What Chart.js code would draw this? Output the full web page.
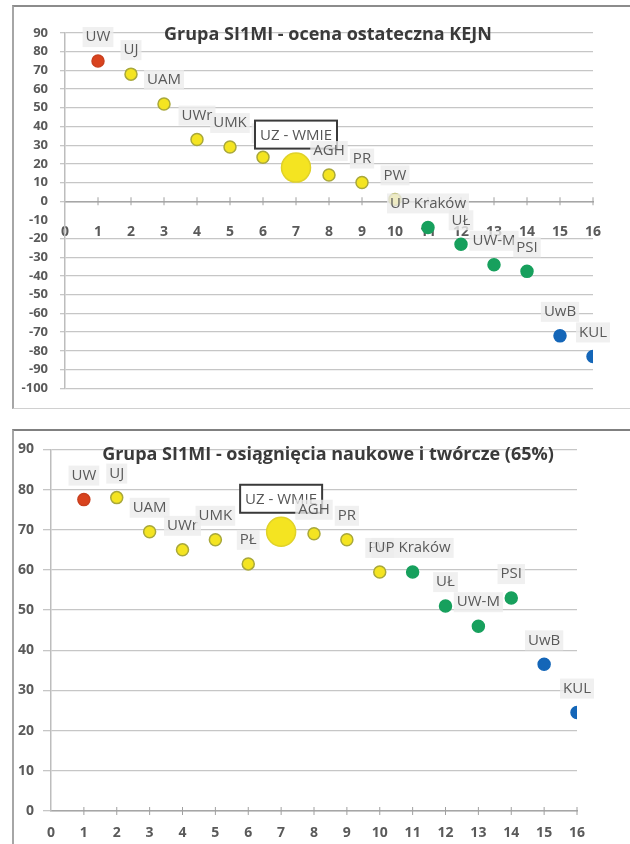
<!DOCTYPE html>
<html>
<head>
<meta charset="utf-8">
<script src="https://cdn.jsdelivr.net/npm/chart.js@4.4.1/dist/chart.umd.min.js"></script>
<style>
body { margin: 0; background: #fff; width: 630px; height: 844px; overflow: hidden; position: relative; }
.frame { position: absolute; box-sizing: border-box; }
#f1 { left: 12px; top: 5px; width: 618px; height: 404px; border-left: 2px solid #a6a6a6; border-top: 2px solid #8c8c8c; border-bottom: 1px solid #d0d0d0; }
#f2 { left: 12px; top: 429px; width: 618px; height: 415px; border-left: 2px solid #a6a6a6; border-top: 2px solid #808080; }
canvas { position: absolute; }
#c1 { left: 15px; top: 8px; }
#c2 { left: 15px; top: 432px; }
</style>
</head>
<body>
<div class="frame" id="f1"></div>
<div class="frame" id="f2"></div>
<canvas id="c1" width="615" height="400"></canvas>
<canvas id="c2" width="615" height="412"></canvas>
<script>
//-------------------
// DATA
//-------------------
var unitNames = ["UW", "UJ", "UAM", "UWr", "UMK", "PŁ", "UZ - WMIE", "AGH", "PR", "PW",
                 "UP Kraków", "UŁ", "UW-M", "PSI", "UwB", "KUL"];
var unitRank = [1, 2, 3, 4, 5, 6, 7, 8, 9, 10, 11, 12, 13, 14, 15, 16];
var unitGroup = ["A", "B", "B", "B", "B", "B", "B", "B", "B", "B", "C", "C", "C", "C", "D", "D"];
var kejnScore = [75, 68, 52, 33, 29, 23.5, 18, 14, 10, 1, -14, -23, -34, -37.5, -72, -83];
var achievementScore = [77.5, 78, 69.5, 65, 67.5, 61.5, 69.5, 69, 67.5, 59.5, 59.5, 51, 46, 53, 36.5, 24.5];
var highlighted = "UZ - WMIE";
var title1 = "Grupa SI1MI - ocena ostateczna KEJN";
var title2 = "Grupa SI1MI - osiągnięcia naukowe i twórcze (65%)";

var groupFill = { A: "#d9431e", B: "#f4e421", C: "#17a05d", D: "#1466b8" };
var groupBorder = { A: "#c9401f", B: "#a9a83a", C: "#17a05d", D: "#1466b8" };

Chart.defaults.font.family = '"Open Sans", sans-serif';
var tickColor = "#5a5a5a";
var gridColor = "#c6c6c6";

// point labels with light boxes, highlighted one in a framed box
var pointLabels = {
    id: "pointLabels",
    afterDatasetsDraw: function (chart) {
        var ctx = chart.ctx;
        var meta = chart.getDatasetMeta(0);
        ctx.save();
        ctx.font = '15px "Open Sans"';
        ctx.textAlign = "center";
        ctx.textBaseline = "middle";
        for (var i = 0; i < meta.data.length; i++) {
            var pt = meta.data[i];
            if (unitNames[i] === highlighted) {
                var bw = ctx.measureText(unitNames[i]).width + 10;
                var by = pt.y - 33;
                ctx.fillStyle = "#fff";
                ctx.fillRect(pt.x - bw / 2, by - 14, bw, 28);
                ctx.strokeStyle = "#3a3a3a";
                ctx.lineWidth = 2;
                ctx.strokeRect(pt.x - bw / 2, by - 14, bw, 28);
                ctx.fillStyle = "#555";
                ctx.fillText(unitNames[i], pt.x, by + 1);
                continue;
            }
            var w = ctx.measureText(unitNames[i]).width + 6;
            var y = pt.y - 24;
            ctx.fillStyle = "rgba(236,236,236,0.8)";
            ctx.fillRect(pt.x - w / 2, y - 10, w, 20);
            ctx.fillStyle = "#5a5a5a";
            ctx.fillText(unitNames[i], pt.x, y);
        }
        ctx.restore();
    }
};

// small cross ticks on the horizontal axis
var axisTicks = {
    id: "axisTicks",
    beforeDatasetsDraw: function (chart) {
        var ctx = chart.ctx;
        var xs = chart.scales.x;
        var y0 = chart.scales.y.getPixelForValue(0);
        ctx.save();
        ctx.strokeStyle = "#a0a0a0";
        ctx.lineWidth = 1;
        ctx.beginPath();
        xs.ticks.forEach(function (t) {
            if (t.value === 0) return;
            var px = xs.getPixelForValue(t.value);
            ctx.moveTo(px, y0 - 4);
            ctx.lineTo(px, y0 + 4);
        });
        ctx.stroke();
        ctx.restore();
    }
};

// title drawn inside the plot
var innerTitle = {
    id: "innerTitle",
    afterDraw: function (chart, args, opts) {
        var ctx = chart.ctx;
        ctx.save();
        ctx.font = 'bold 18px "Open Sans"';
        ctx.fillStyle = "#3a3a3a";
        ctx.textAlign = "center";
        ctx.textBaseline = "middle";
        ctx.fillText(opts.text, opts.x, opts.y);
        ctx.restore();
    }
};

function makeData(values) {
    return {
        datasets: [{
            data: unitRank.map(function (r, i) { return { x: r, y: values[i] }; }),
            backgroundColor: unitGroup.map(function (g) { return groupFill[g]; }),
            borderColor: unitNames.map(function (n, i) { return n === highlighted ? "#e0d22a" : groupBorder[unitGroup[i]]; }),
            borderWidth: 1.5,
            pointRadius: unitNames.map(function (n) { return n === highlighted ? 14.5 : 6; })
        }]
    };
}

var tickFont = { size: 14, weight: "bold" };

var chart1 = new Chart(document.getElementById("c1"), {
    type: "scatter",
    data: makeData(kejnScore),
    plugins: [axisTicks, pointLabels, innerTitle],
    options: {
        responsive: false,
        animation: false,
        layout: { padding: { left: 0, right: 37, top: 25, bottom: 10 } },
        plugins: {
            legend: { display: false },
            tooltip: { enabled: false },
            innerTitle: { text: title1, x: 313, y: 27 }
        },
        scales: {
            x: {
                type: "linear", min: 0, max: 16, position: { y: 0 },
                ticks: { stepSize: 1, padding: 22, color: tickColor, font: tickFont },
                grid: { drawOnChartArea: false, drawTicks: false },
                border: { color: "#a6a6a6", width: 1.5 }
            },
            y: {
                min: -100, max: 90,
                ticks: { stepSize: 10, padding: 12, autoSkip: false, color: tickColor, font: { size: 13, weight: "bold" } },
                grid: {
                    tickLength: 5, lineWidth: 1.3,
                    color: function (c) { return c.tick && c.tick.value === -10 ? "rgba(0,0,0,0)" : gridColor; }
                },
                border: { color: "#bdbdbd", width: 1.5 },
                afterFit: function (s) { s.width = 50; }
            }
        }
    }
});

var chart2 = new Chart(document.getElementById("c2"), {
    type: "scatter",
    data: makeData(achievementScore),
    plugins: [axisTicks, pointLabels, innerTitle],
    options: {
        responsive: false,
        animation: false,
        layout: { padding: { left: 0, right: 53, top: 9, bottom: 0 } },
        plugins: {
            legend: { display: false },
            tooltip: { enabled: false },
            innerTitle: { text: title2, x: 313, y: 23 }
        },
        scales: {
            x: {
                type: "linear", min: 0, max: 16, position: "bottom",
                ticks: { stepSize: 1, padding: 14, color: tickColor, font: tickFont },
                grid: { drawOnChartArea: false, drawTicks: false },
                border: { color: "#a6a6a6", width: 1.5 },
                afterFit: function (s) { s.height = 33; }
            },
            y: {
                min: 0, max: 90,
                ticks: { stepSize: 10, padding: 9, autoSkip: false, color: tickColor, font: tickFont },
                grid: { tickLength: 8, lineWidth: 1.3, color: gridColor },
                border: { color: "#bdbdbd", width: 1.5 },
                afterFit: function (s) { s.width = 36; }
            }
        }
    }
});
</script>
</body>
</html>
